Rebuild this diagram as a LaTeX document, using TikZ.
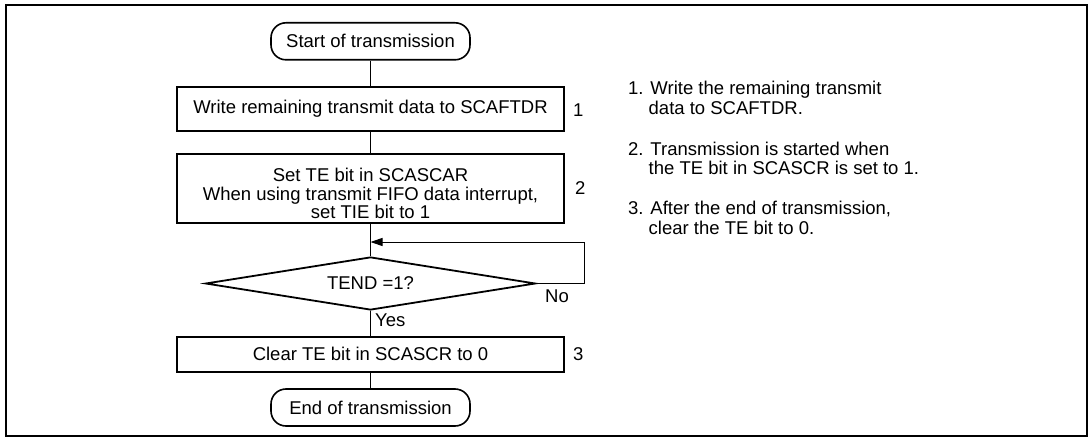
\documentclass[tikz,border=0pt]{standalone}
\usepackage{fontspec}
\setmainfont{Liberation Sans}
\usetikzlibrary{shapes.geometric,arrows.meta}
\begin{document}
\begin{tikzpicture}[x=1pt,y=-1pt,
  font=\fontsize{18.5}{18.5}\selectfont,
  box/.style={draw, line width=1.8pt, minimum width=387pt, inner sep=0pt},
  term/.style={draw, line width=1.6pt, rounded corners=15pt, minimum width=199pt, minimum height=37pt, inner sep=0pt},
  dec/.style={draw, diamond, aspect=6.2, line width=1.8pt, minimum width=330pt, minimum height=53pt, inner sep=0pt},
  conn/.style={line width=1pt},
  txt/.style={inner sep=0pt, anchor=base west},
  num/.style={inner sep=0pt, anchor=west}]
\useasboundingbox (0,0) rectangle (1092,441);
\draw[line width=2pt] (5.7,4.7) rectangle (1087,436);

\node[term] (start) at (370.5,41.3) {Start of transmission};
\node[box, minimum height=43.5pt] (b1) at (370.5,109) {Write remaining transmit data to SCAFTDR};
\node[box, minimum height=68.7pt] (b2) at (370.5,188.5) {};
\node[inner sep=0pt, align=center] (b2t) at (370.5,193.5) {Set TE bit in SCASCAR\\When using transmit FIFO data interrupt,\\set TIE bit to 1};
\node[dec] (d) at (370.5,283.5) {TEND =1?};
\node[box, minimum height=35pt] (b3) at (370.5,354.2) {Clear TE bit in SCASCR to 0};
\node[term] (end) at (370.5,407.5) {End of transmission};

\coordinate (ret) at (370.5,242);
\draw[conn] (start) -- (b1);
\draw[conn] (b1) -- (b2);
\draw[conn] (b2) -- (d);
\draw[conn] (d) -- (b3);
\draw[conn] (b3) -- (end);
\draw[conn, -{Triangle[length=12pt,width=8pt]}] (d.east) -- ++(48,0) |- (ret);

\node[txt] (no) at (545,302) {No};
\node[txt] (yes) at (375,326.5) {Yes};

\node[num] (n1) at (573,110) {1};
\node[num] (n2) at (575,188.5) {2};
\node[num] (n3) at (573,354.2) {3};

\node[txt] (t1a) at (628,95) {1. Write the remaining transmit};
\node[txt] (t1b) at (648.5,114.5) {data to SCAFTDR.};
\node[txt] (t2a) at (628,155) {2. Transmission is started when};
\node[txt] (t2b) at (648.5,174.5) {the TE bit in SCASCR is set to 1.};
\node[txt] (t3a) at (628,214.5) {3. After the end of transmission,};
\node[txt] (t3b) at (648.5,234) {clear the TE bit to 0.};
\end{tikzpicture}
\end{document}
